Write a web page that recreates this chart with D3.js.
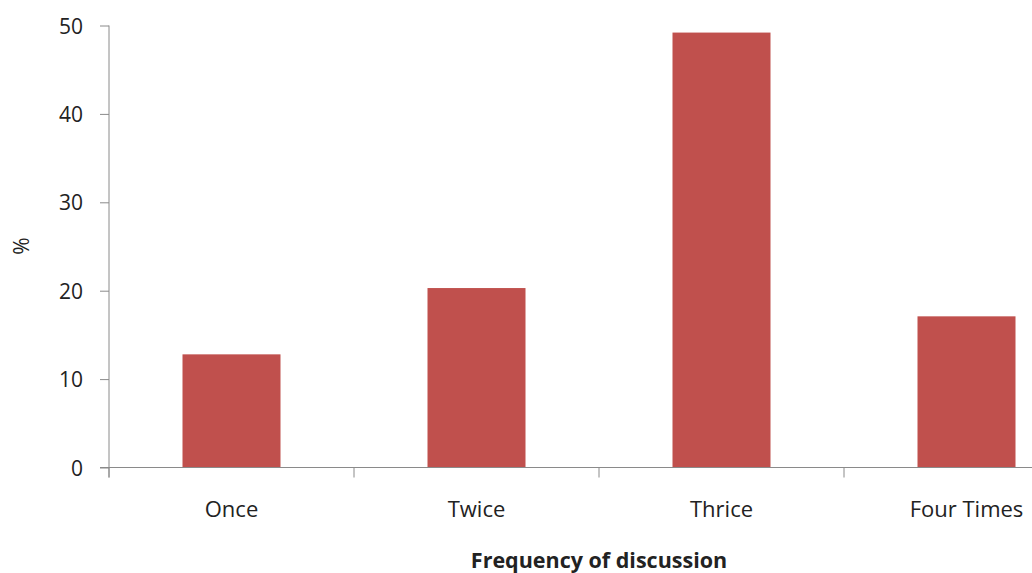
<!DOCTYPE html>
<html>
<head>
<meta charset="utf-8">
<script src="https://cdn.jsdelivr.net/npm/d3@7"></script>
<style>
  html, body { margin: 0; padding: 0; background: #fff; }
  svg { display: block; }
  .tick text { font-family: "Open Sans", sans-serif; fill: #222; }
</style>
</head>
<body>
<svg id="chart" width="1032" height="573"></svg>
<script>
// Share of respondents (%) by how often the topic was discussed
const categories = ["Once", "Twice", "Thrice", "Four Times"];
const values = [12.8, 20.3, 49.2, 17.1];
const yTicks = [0, 10, 20, 30, 40, 50];
const xTitle = "Frequency of discussion";
const yTitle = "%";

const svg = d3.select("#chart");
const plotLeft = 109, plotRight = 1089, plotTop = 25.5, plotBottom = 467.5;
const axisColor = "#8a8a8a";

const x = d3.scaleBand()
  .domain(categories)
  .range([plotLeft, plotRight])
  .paddingInner(0.6)
  .paddingOuter(0.3);

const y = d3.scaleLinear()
  .domain([0, 50])
  .range([plotBottom, plotTop]);

// Bars
svg.append("g")
  .selectAll("rect")
  .data(values)
  .join("rect")
  .attr("x", (d, i) => x(categories[i]))
  .attr("y", d => y(d))
  .attr("width", x.bandwidth())
  .attr("height", d => y(0) - y(d))
  .attr("fill", "#C0504D");

// Y axis
const yAxis = svg.append("g")
  .attr("transform", `translate(${plotLeft},0)`)
  .call(d3.axisLeft(y).tickValues(yTicks).tickSize(9).tickSizeOuter(0).tickPadding(17));
yAxis.select(".domain").attr("stroke", axisColor).attr("d", `M0,${plotTop}V${plotBottom + 10}`);
yAxis.selectAll(".tick line").attr("stroke", axisColor);
yAxis.selectAll(".tick text").attr("font-size", 21).attr("dy", "0.36em");

// X axis: baseline, category boundary ticks, labels
const xAxis = svg.append("g")
  .attr("transform", `translate(0,${plotBottom})`)
  .call(d3.axisBottom(x).tickSize(0).tickPadding(34));
xAxis.select(".domain").attr("stroke", axisColor).attr("d", `M${plotLeft - 9},0H${plotRight}`);
xAxis.selectAll(".tick text").attr("font-size", 22);

const gap = x.step() * x.paddingInner() / 2;
const bounds = categories.map(c => x(c) - gap)
  .concat([x(categories[categories.length - 1]) + x.bandwidth() + gap]);
xAxis.append("g")
  .selectAll("line")
  .data(bounds)
  .join("line")
  .attr("x1", d => d).attr("x2", d => d)
  .attr("y1", 0).attr("y2", 10)
  .attr("stroke", axisColor);

// Axis titles
svg.append("text")
  .attr("x", (plotLeft + plotRight) / 2)
  .attr("y", 568)
  .attr("text-anchor", "middle")
  .attr("font-family", "'Open Sans', sans-serif")
  .attr("font-weight", "bold")
  .attr("font-size", 21.5)
  .attr("fill", "#222")
  .text(xTitle);

svg.append("text")
  .attr("transform", `translate(29,246) rotate(-90)`)
  .attr("text-anchor", "middle")
  .attr("font-family", "'Open Sans', sans-serif")
  .attr("font-size", 21)
  .attr("fill", "#222")
  .text(yTitle);
</script>
</body>
</html>
